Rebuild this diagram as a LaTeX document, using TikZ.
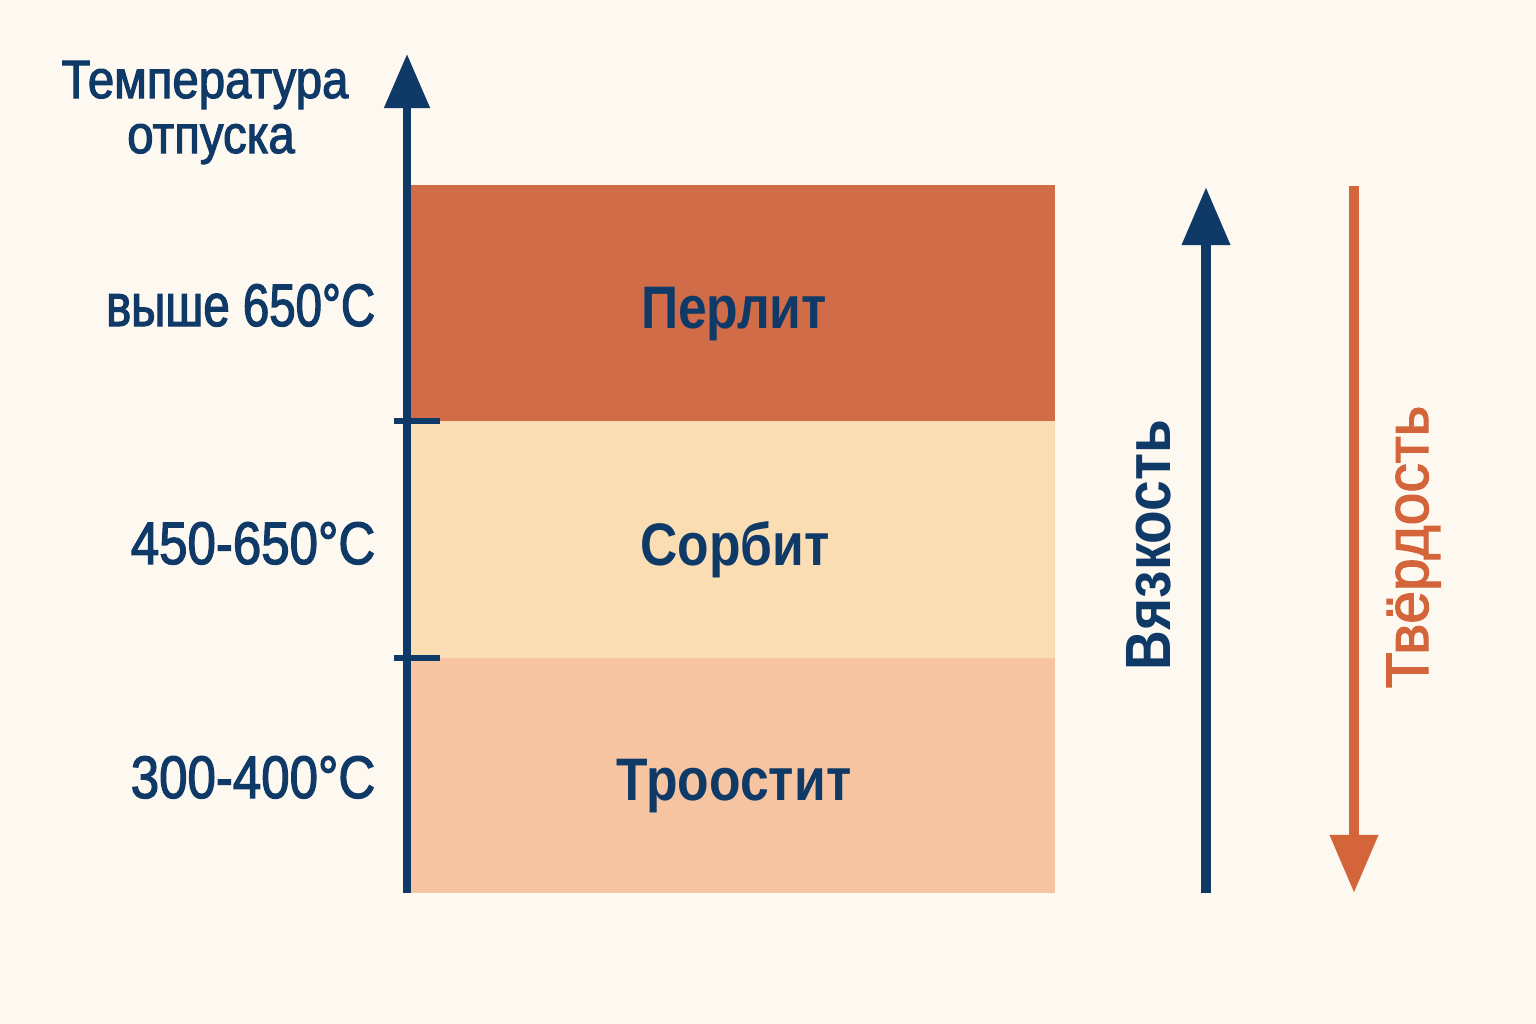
\documentclass[tikz,border=0pt]{standalone}
\usepackage{fontspec}
\setmainfont{Liberation Sans}[FakeStretch=0.86]
\newfontfamily\lblfont{Liberation Sans}[FakeStretch=0.85,FakeBold=2]
\newfontfamily\lblnarrow{Liberation Sans}[FakeStretch=0.79,FakeBold=2]
\newfontfamily\topfont{Liberation Sans}[FakeStretch=0.88,FakeBold=2]
\newfontfamily\hardfont{Liberation Sans}[FakeStretch=0.98,FakeBold=2]
\usetikzlibrary{arrows.meta}
\definecolor{bgc}{HTML}{FDF8F0}
\definecolor{navy}{HTML}{0F3A68}
\definecolor{perlitc}{HTML}{D06C48}
\definecolor{sorbitc}{HTML}{FBDDB4}
\definecolor{troostc}{HTML}{F6C4A1}
\definecolor{orangec}{HTML}{D4653A}
\tikzset{
  band/.style={draw=none,rectangle,minimum width=6.44cm,inner sep=0pt,outer sep=0pt},
  phase/.style={anchor=base,text=navy,font=\fontsize{17.07pt}{20pt}\selectfont\bfseries,inner sep=0pt},
  templbl/.style={anchor=base east,text=navy,font=\lblfont\fontsize{17.07pt}{20pt}\selectfont,inner sep=0pt},
  toplbl/.style={anchor=base,text=navy,font=\topfont\fontsize{15.3pt}{18pt}\selectfont,inner sep=0pt},
  axisline/.style={navy,line width=0.08cm},
  tickline/.style={navy,line width=0.06cm},
}
\begin{document}
\begin{tikzpicture}[x=0.01cm,y=-0.01cm]
\useasboundingbox (0,0) rectangle (1536,1024);
\fill[bgc] (0,0) rectangle (1536,1024);
% bands
\node[band,fill=perlitc,minimum height=2.36cm] (perlit) at (733,303) {};
\node[band,fill=sorbitc,minimum height=2.37cm] (sorbit) at (733,539.5) {};
\node[band,fill=troostc,minimum height=2.35cm] (troost) at (733,775.5) {};
% band texts
\node[phase] (tperlit) at (734,328) {Перлит};
\node[phase] (tsorbit) at (735,565) {Сорбит};
\node[phase] (ttroost) at (734,800) {Троостит};
% axis
\coordinate (axbot) at (407,893);
\coordinate (axtop) at (407,54);
\draw[axisline,-{Triangle[length=0.54cm,width=0.44cm]}] (axbot) -- (axtop);
\coordinate (t1a) at (394,421); \coordinate (t1b) at (440,421);
\coordinate (t2a) at (394,658); \coordinate (t2b) at (440,658);
\draw[tickline] (t1a) -- (t1b);
\draw[tickline] (t2a) -- (t2b);
% axis labels
\node[toplbl] (ttl1) at (205,98) {Температура};
\node[toplbl] (ttl2) at (211,153) {отпуска};
\node[templbl,font=\lblnarrow\fontsize{17.07pt}{20pt}\selectfont] (l1) at (376,326) {выше 650°C};
\node[templbl] (l2) at (376,564) {450-650°C};
\node[templbl] (l3) at (376,798) {300-400°C};
% viscosity arrow
\coordinate (vbot) at (1206,893);
\coordinate (vtop) at (1206,187);
\draw[navy,line width=0.10cm,-{Triangle[length=0.58cm,width=0.46cm]}] (vbot) -- (vtop);
\node[anchor=base,rotate=90,text=navy,font=\fontsize{18.2pt}{20pt}\selectfont\bfseries,inner sep=0pt] (vlbl) at (1170,545) {Вязкость};
% hardness arrow
\coordinate (htop) at (1354,186);
\coordinate (hbot) at (1354,893);
\draw[orangec,line width=0.10cm,-{Triangle[length=0.58cm,width=0.46cm]}] (htop) -- (hbot);
\node[anchor=base,rotate=90,text=orangec,font=\hardfont\fontsize{17.07pt}{20pt}\selectfont,inner sep=0pt] (hlbl) at (1428,547) {Твёрдость};
\end{tikzpicture}
\end{document}
